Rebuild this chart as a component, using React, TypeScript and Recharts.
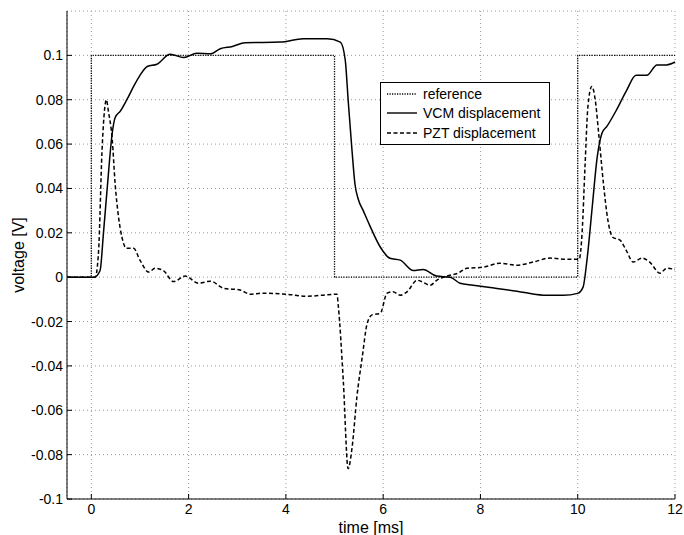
import { LineChart, Line, XAxis, YAxis, CartesianGrid, Legend } from 'recharts'

// the picture is taken of the full 684x535 page, so drop the default body margin
if (typeof document !== 'undefined') {
  document.body.style.margin = '0'
}

// reference step signal
const refTime = [-0.5, 0, 0, 5, 5, 10, 10, 12]
const refVolt = [0, 0, 0.1, 0.1, 0, 0, 0.1, 0.1]

// VCM displacement (solid)
const vcmTime = [
  -0.5, 0, 0.06, 0.18, 0.25, 0.33, 0.43, 0.49, 0.6, 0.73, 0.87, 1.0, 1.15, 1.35, 1.62, 1.9, 2.17, 2.45,
  2.65, 2.9, 3.16, 3.88, 4.36, 4.85, 5.12, 5.22, 5.28, 5.36, 5.42, 5.49, 5.59, 5.73, 5.94, 6.14, 6.35,
  6.62, 6.82, 7.1, 7.38, 7.58, 7.85, 8.2, 8.75, 9.29, 9.7, 10.0, 10.11, 10.19, 10.3, 10.4, 10.5, 10.6,
  10.8, 11.0, 11.2, 11.42, 11.63, 11.83, 12,
]
const vcmVolt = [
  0, 0, 0, 0.003, 0.02, 0.041, 0.065, 0.072, 0.075, 0.08, 0.086, 0.091, 0.095, 0.096, 0.1005, 0.099, 0.101,
  0.1007, 0.103, 0.104, 0.1057, 0.106, 0.1075, 0.1075, 0.106, 0.098, 0.08, 0.057, 0.042, 0.035, 0.03, 0.023,
  0.0136, 0.0085, 0.0077, 0.003, 0.0035, 0.0005, 0, -0.0027, -0.0036, -0.0047, -0.0063, -0.0081, -0.0082,
  -0.0073, -0.0045, 0.0077, 0.032, 0.054, 0.065, 0.068, 0.0755, 0.084, 0.091, 0.091, 0.0957, 0.0957, 0.097,
]

// PZT displacement (dashed)
const pztTime = [
  -0.5, 0.08, 0.15, 0.22, 0.27, 0.31, 0.35, 0.43, 0.49, 0.56, 0.63, 0.72, 0.87, 1.0, 1.18, 1.31, 1.48, 1.69,
  1.93, 2.2, 2.45, 2.72, 3.06, 3.27, 3.53, 4.02, 4.44, 4.77, 5.05, 5.08, 5.18, 5.28, 5.36, 5.46, 5.57, 5.67,
  5.77, 5.94, 6.08, 6.2, 6.35, 6.49, 6.7, 6.97, 7.1, 7.31, 7.54, 7.72, 8.06, 8.4, 8.75, 9.08, 9.43, 9.78,
  10.03, 10.09, 10.15, 10.21, 10.29, 10.36, 10.43, 10.53, 10.62, 10.72, 10.87, 11.0, 11.14, 11.32, 11.48,
  11.69, 11.83, 12,
]
const pztVolt = [
  0, 0, 0.012, 0.057, 0.075, 0.08, 0.075, 0.062, 0.042, 0.027, 0.018, 0.013, 0.013, 0.0077, 0.0023, 0.004,
  0.003, -0.002, 0.0005, -0.0027, -0.0018, -0.005, -0.0058, -0.0077, -0.0072, -0.0077, -0.0086, -0.0081,
  -0.0077, -0.0135, -0.0465, -0.0863, -0.077, -0.054, -0.036, -0.021, -0.017, -0.0163, -0.0072, -0.0066,
  -0.0081, -0.0066, -0.0014, -0.0036, -0.0014, 0.0005, 0.0018, 0.004, 0.0045, 0.0063, 0.0054, 0.0068, 0.0086,
  0.0081, 0.0081, 0.02, 0.05, 0.077, 0.086, 0.08, 0.065, 0.042, 0.0257, 0.018, 0.0167, 0.012, 0.0068, 0.0086,
  0.0068, 0.0018, 0.004, 0.0035,
]

const xTicks = [0, 2, 4, 6, 8, 10, 12]
const yTicks = [-0.1, -0.08, -0.06, -0.04, -0.02, 0, 0.02, 0.04, 0.06, 0.08, 0.1]

const legendItems = [
  { name: 'reference', dash: '1.2 1.3' },
  { name: 'VCM displacement', dash: '' },
  { name: 'PZT displacement', dash: '4 2.5' },
]

const toPoints = (t: number[], v: number[]) => t.map((x, i) => ({ t: x, v: v[i] }))

const refData = toPoints(refTime, refVolt)
const vcmData = toPoints(vcmTime, vcmVolt)
const pztData = toPoints(pztTime, pztVolt)

const FONT = '"Liberation Sans", Arial, Helvetica, sans-serif'
const tickStyle = { fontSize: 14, fill: '#000', fontFamily: FONT }

function LegendBox() {
  return (
    <div
      style={{
        width: 168,
        border: '1px solid #000',
        background: '#fff',
        padding: '1px 0',
        fontFamily: FONT,
        fontSize: 14,
        color: '#000',
      }}
    >
      {legendItems.map((item) => (
        <div key={item.name} style={{ height: 19.5, display: 'flex', alignItems: 'center' }}>
          <svg width={42} height={10} style={{ flex: 'none' }}>
            <line x1={6} x2={36} y1={5} y2={5} stroke="#000" strokeWidth={1.4} strokeDasharray={item.dash || undefined} />
          </svg>
          <span style={{ whiteSpace: 'nowrap' }}>{item.name}</span>
        </div>
      ))}
    </div>
  )
}

export default function App() {
  return (
    <div style={{ width: 684, height: 535, overflow: 'hidden' }}>
      <LineChart width={684} height={535} margin={{ top: 11, right: 9, left: 0, bottom: 0 }}>
        <CartesianGrid stroke="#999" strokeDasharray="1 3" strokeWidth={1} />
        <XAxis
          dataKey="t"
          type="number"
          domain={[-0.5, 12]}
          ticks={xTicks}
          interval={0}
          height={36}
          allowDuplicatedCategory={false}
          tick={tickStyle}
          tickSize={-5}
          tickMargin={10}
          stroke="#000"
          label={{ value: 'time [ms]', position: 'insideBottom', offset: 2, style: { fontSize: 16, fill: '#000', fontFamily: FONT } }}
        />
        <XAxis
          xAxisId="top"
          orientation="top"
          type="number"
          domain={[-0.5, 12]}
          ticks={xTicks}
          interval={0}
          height={0}
          tickFormatter={() => ''}
          tickSize={-5}
          stroke="#000"
        />
        <YAxis
          type="number"
          domain={[-0.1, 0.12]}
          ticks={yTicks}
          interval={0}
          width={67}
          tick={tickStyle}
          tickSize={-5}
          tickMargin={9}
          tickFormatter={(v: number) => String(v)}
          stroke="#000"
          label={{
            value: 'voltage [V]',
            angle: -90,
            position: 'insideLeft',
            offset: 18,
            style: { fontSize: 16, fill: '#000', fontFamily: FONT, textAnchor: 'middle' },
          }}
        />
        <YAxis
          yAxisId="right"
          orientation="right"
          type="number"
          domain={[-0.1, 0.12]}
          ticks={yTicks}
          interval={0}
          width={0}
          tickFormatter={() => ''}
          tickSize={-5}
          stroke="#000"
        />
        <Legend
          layout="vertical"
          align="center"
          verticalAlign="middle"
          content={() => <LegendBox />}
          wrapperStyle={{ left: 380, top: 82, width: 170 }}
        />
        <Line
          data={refData}
          dataKey="v"
          name="reference"
          type="linear"
          stroke="#000"
          strokeWidth={1.3}
          strokeDasharray="1.2 1.3"
          dot={false}
          isAnimationActive={false}
        />
        <Line
          data={vcmData}
          dataKey="v"
          name="VCM displacement"
          type="monotone"
          stroke="#000"
          strokeWidth={1.5}
          dot={false}
          isAnimationActive={false}
        />
        <Line
          data={pztData}
          dataKey="v"
          name="PZT displacement"
          type="monotone"
          stroke="#000"
          strokeWidth={1.5}
          strokeDasharray="4 2.5"
          dot={false}
          isAnimationActive={false}
        />
      </LineChart>
    </div>
  )
}
